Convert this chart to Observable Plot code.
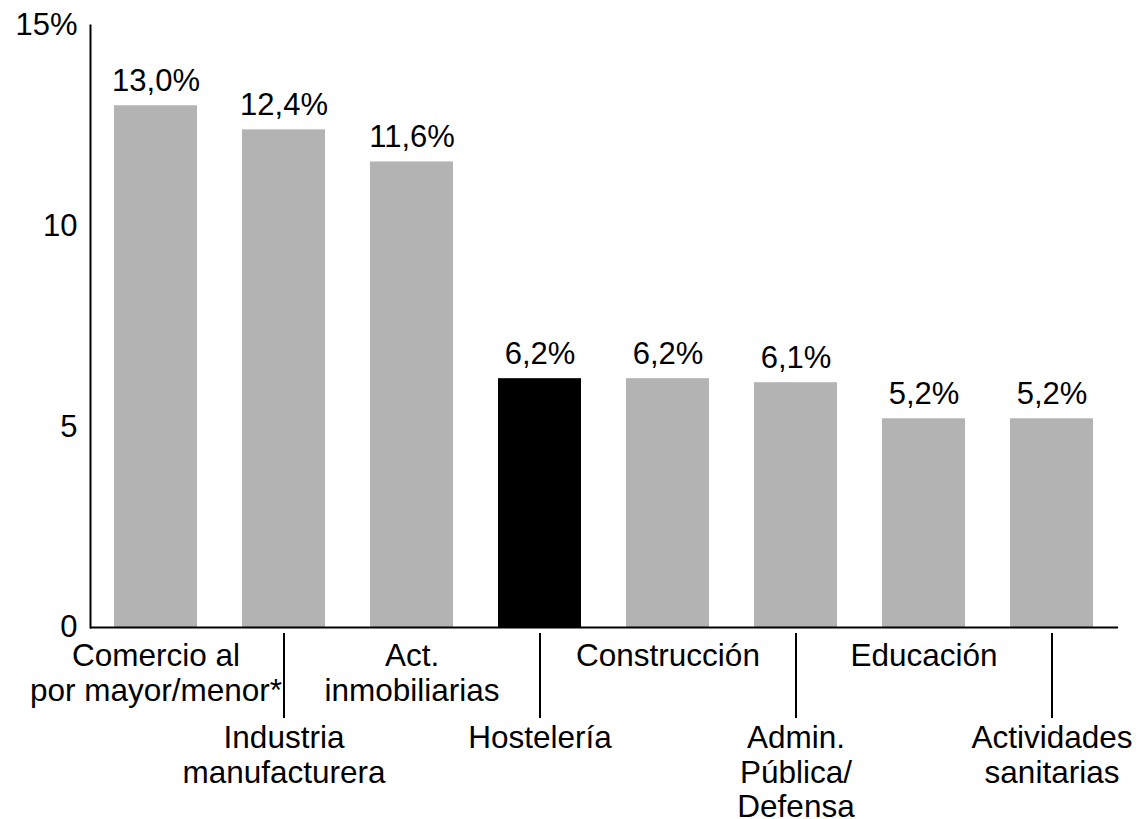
<!DOCTYPE html>
<html>
<head>
<meta charset="utf-8">
<script src="https://cdn.jsdelivr.net/npm/d3@7"></script>
<script src="https://cdn.jsdelivr.net/npm/@observablehq/plot@0.6"></script>
<style>
  html, body { margin: 0; padding: 0; background: #fff; }
  #chart svg { display: block; }
</style>
</head>
<body>
<div id="chart"></div>
<script>
const categories = [
  "Comercio al\npor mayor/menor*",
  "Industria\nmanufacturera",
  "Act.\ninmobiliarias",
  "Hostelería",
  "Construcción",
  "Admin.\nPública/\nDefensa",
  "Educación",
  "Actividades\nsanitarias"
];
const values = [13.0, 12.4, 11.6, 6.2, 6.2, 6.1, 5.2, 5.2];
const valueLabels = ["13,0%", "12,4%", "11,6%", "6,2%", "6,2%", "6,1%", "5,2%", "5,2%"];
const highlight = "Hostelería";
const yTicks = [0, 5, 10, 15];
const yTickLabels = ["0", "5", "10", "15%"];

const data = categories.map((c, i) => ({cat: c, value: values[i], label: valueLabels[i], level: i % 2}));
const upper = data.filter(d => d.level === 0);
const lower = data.filter(d => d.level === 1);

const FS = 31;
const chart = Plot.plot({
  width: 1140,
  height: 819,
  marginTop: 25,
  marginBottom: 192,
  marginLeft: 90,
  marginRight: 22,
  style: {fontFamily: "'Liberation Sans', Arial, sans-serif", fontSize: FS + "px", color: "#000", background: "#fff"},
  x: {domain: categories, paddingInner: 0.35, paddingOuter: 0.18, axis: null},
  y: {domain: [0, 15], axis: null},
  marks: [
    Plot.barY(data, {x: "cat", y: "value", fill: d => d.cat === highlight ? "#000000" : "#b3b3b3"}),
    Plot.ruleY([0], {stroke: "#000", strokeWidth: 2}),
    Plot.frame({anchor: "left", stroke: "#000", strokeWidth: 2}),
    Plot.axisY({ticks: yTicks, tickFormat: d => yTickLabels[yTicks.indexOf(d)], tickSize: 0, tickPadding: 13, fontSize: FS, label: null}),
    Plot.text(data, {x: "cat", y: "value", text: "label", lineAnchor: "bottom", dy: -15, fontSize: FS, fill: "#000"}),
    Plot.axisX({ticks: lower.map(d => d.cat), tickSize: 85, dy: 6, text: null, label: null, stroke: "#000", strokeWidth: 2}),
    Plot.text(upper, {x: "cat", frameAnchor: "bottom", text: "cat", lineAnchor: "top", dy: 14, lineHeight: 1.1, fontSize: 31.5, fill: "#000"}),
    Plot.text(lower, {x: "cat", frameAnchor: "bottom", text: "cat", lineAnchor: "top", dy: 96, lineHeight: 1.1, fontSize: 31.5, fill: "#000"})
  ]
});
document.getElementById("chart").appendChild(chart);
</script>
</body>
</html>
